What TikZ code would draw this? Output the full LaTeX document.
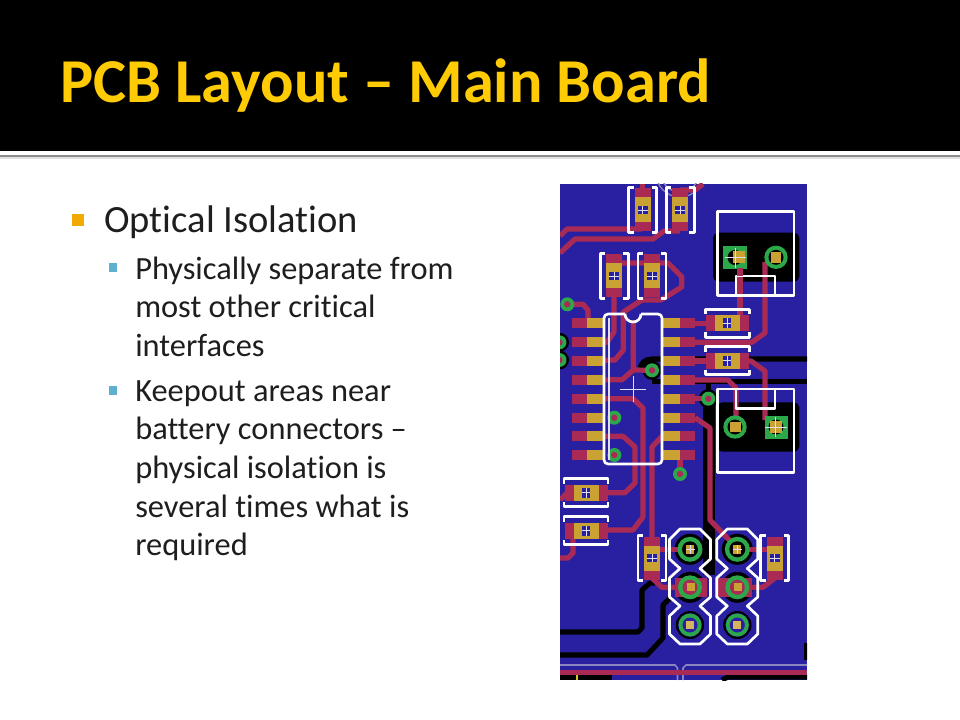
\documentclass[tikz,border=0pt]{standalone}
\usepackage{fontspec}
\setmainfont{Carlito}[Ligatures=NoCommon]
\definecolor{barGold}{HTML}{FFCB05}
\definecolor{bulGold}{HTML}{F0AA00}
\definecolor{bulBlue}{HTML}{5FB0D0}
\definecolor{bodyInk}{HTML}{1E1E1E}
\definecolor{pcbBlue}{HTML}{2820A0}
\definecolor{pcbRed}{HTML}{A92B55}
\definecolor{pcbPad}{HTML}{C9A233}
\definecolor{pcbGreen}{HTML}{2BA84A}
\definecolor{pcbGrey}{HTML}{8A86BE}
\begin{document}
\begin{tikzpicture}[x=0.75pt,y=-0.75pt,line join=round,
	trace/.style={line width=3.9pt,color=pcbRed},
	gnd/.style={line width=3.8pt,color=black},
	silk/.style={line width=2pt,color=white},
	fine/.style={line width=0.5pt,color=white!85!pcbBlue},
	head/.style={font=\fontsize{46.8}{46.8}\bfseries,text=barGold,inner sep=0pt,anchor=base west},
	item/.style={font=\fontsize{28.9}{29}\selectfont,text=bodyInk,inner sep=0pt,anchor=north west,align=left},
	subitem/.style={font=\fontsize{24.3}{29}\selectfont,text=bodyInk,inner sep=0pt,anchor=north west,align=left}]
	\useasboundingbox (0,0) rectangle (960,720);
	\fill[white] (0,0) rectangle (960,720);
	% title bar
	\fill[black] (0,0) rectangle (960,151);
	\fill[black!45] (0,155) rectangle (960,157.5);
	\fill[black!12] (0,157.5) rectangle (960,159);
	\node[head] (title) at (60,102.5) {PCB Layout – Main Board};
	% bullets
	\fill[bulGold] (72,214) rectangle (84,226);
	\fill[bulBlue] (108.7,263) rectangle (116.7,272);
	\fill[bulBlue] (108.7,386) rectangle (116.7,395);
	\node[item] (optical) at (104,205) {Optical Isolation};
	\node[subitem] (separate) at (135,256.5) {Physically separate from\\most other critical\\interfaces};
	\node[subitem] (keepout) at (135,380) {Keepout areas near\\battery connectors –\\physical isolation is\\several times what is\\required};
	% board
	\begin{scope}
	\clip (560,184) rectangle (807,680);
	\fill[pcbBlue] (560,184) rectangle (807,680);
	\draw[pcbGrey,line width=1pt] (680,173) circle[radius=24];
	\draw[pcbGrey,line width=1pt] (680,173) circle[radius=19];
	% connector copper pours and ground lines
	\fill[black,rounded corners=4] (713,232.7) rectangle (799.3,281.7);
	\fill[black,rounded corners=4] (717,402.3) rectangle (799.3,451.7);
	\draw[gnd] (640,371) .. controls (640,363) and (645,359) .. (652,359) -- (807,359);
	\draw[gnd] (652,381.5) -- (807,381.5);
	\draw[gnd,line width=9pt] (708.7,398) -- (708.7,575);
	\draw[gnd] (708.7,381.5) -- (708.7,398);
	\draw[gnd] (560,632) -- (638,632) -- (642,628) -- (642,590) -- (650,583) -- (655,583);
	\draw[gnd] (560,655) -- (647,655) -- (663,638) -- (663,605) -- (670,598);
	\draw[gnd] (807,643) -- (807,660);
	\draw[gnd] (560,677) -- (612,677);
	\draw[gnd] (722,680) -- (728,677) -- (807,677);
	\foreach \x in {690,737.3} \foreach \y in {549.3,587.3} {
		\fill[black] (\x,\y) circle[radius=15.5];
	}
	\foreach \x in {690,737.3} {
		\fill[black] (\x,625) circle[radius=14];
		\fill[pcbBlue] (\x-13,611) rectangle (\x+13,639);
		\fill[black,even odd rule] (\x,625) circle[radius=14] (\x,625) circle[radius=12];
	}
	\foreach \x/\y in {559.5/342.3,559.5/360,652/370.3,708.3/398.7} {
		\fill[black] (\x,\y) circle[radius=9.5];
	}
	% board edge outline
	\draw[pcbGrey,line width=1.2pt] (560,665) -- (675,665) -- (677.5,668) -- (677.5,680);
	\draw[pcbGrey,line width=1.2pt] (683,680) -- (683,668) -- (686,665) -- (807,665);
	\draw[trace] (560,672.3) -- (807,672.3);
	\fill[yellow!80!black] (576,675) rectangle (578,680);
	% traces
	\draw[trace] (560,236) -- (567,229) -- (642,229);
	\draw[trace] (560,253) -- (575,239) -- (653,239) -- (664,231) -- (680,231);
	\draw[trace] (642.3,184) -- (642.3,190);
	\draw[trace] (680,190) -- (695,190) -- (703,184);
	\draw[trace] (614,263) -- (668,263) -- (681.7,276.7) -- (681.7,287) -- (661,300) -- (642,300) -- (623.3,312) -- (623.3,350) -- (615,360) -- (572,361);
	\draw[trace] (633.3,320) -- (633.3,370) -- (652,370.3);
	\draw[trace] (633.3,370) -- (622,379.8) -- (572,380);
	\draw[trace] (614,297) -- (614,332) -- (607,342.3) -- (572,342.3);
	\draw[trace] (567.3,304.3) -- (583,304.3) -- (588,310) -- (588,322);
	\draw[trace] (695,323.3) -- (712,323.3);
	\draw[trace] (740,257) -- (740,318);
	\draw[trace] (765,262) -- (765,333) -- (752,342.3) -- (695,342.3);
	\draw[trace] (695,361) -- (712,361);
	\draw[trace] (745,361) -- (751,361) -- (765,371) -- (765,420);
	\draw[trace] (695,380) -- (728,380) -- (736,388) -- (736,424);
	\draw[trace] (695,398.7) -- (708.3,398.7);
	\draw[trace] (695,417.7) -- (710,428) -- (710,520) -- (733,544);
	\draw[trace] (572,398.7) -- (633,398.7) -- (643,408) -- (643,517) -- (633,530) -- (600,530);
	\draw[trace] (572,436.3) -- (623,436.3) -- (635,447) -- (635,483) -- (625,492.7) -- (600,492.7);
	\draw[trace] (695,436.3) -- (662,436.3) -- (652,447) -- (652,540);
	\draw[trace] (680,455) -- (680,474);
	\draw[trace] (560,500) -- (567,493);
	\draw[trace] (573,536) -- (573,553) -- (568,558) -- (560,558);
	\draw[trace] (652,549.3) -- (690,549.3);
	\draw[trace] (737.3,549.3) -- (775,549.3);
	\draw[trace] (652,578) -- (662,587.3) -- (690,587.3);
	\draw[trace] (737.3,587.3) -- (763,587.3) -- (775,578);
	\fill[pcbRed] (675,578) rectangle (707,597);
	\fill[pcbRed] (716,578) rectangle (752,597);
	% ic pads
	\foreach \y in {323.3,342.3,361,380,398.7,417.7,436.3,455} {
		\fill[pcbRed] (572.3,\y-5) rectangle (605,\y+5);
		\fill[pcbPad] (587,\y-5) rectangle (605,\y+5);
	}
	\foreach \y in {323.3,342.3,361,380,398.7,417.7,436.3,455} {
		\fill[pcbRed] (662.3,\y-5) rectangle (695,\y+5);
		\fill[pcbPad] (662.3,\y-5) rectangle (680,\y+5);
	}
	% vias
	\foreach \x/\y in {567.3/304.3,559.5/342.3,559.5/360,652/370.3,708.3/398.7,614.3/417.7,614.3/455,680/474} {
		\fill[pcbGreen] (\x,\y) circle[radius=7];
		\fill[pcbRed] (\x,\y) circle[radius=3.2];
	}
	% header pads
	\foreach \x in {690,737.3} {
		\fill[pcbGreen] (\x,549.3) circle[radius=12.5];
		\fill[black] (\x,549.3) circle[radius=8];
		\fill[pcbGreen] (\x,587.3) circle[radius=12];
		\fill[pcbRed] (\x,587.3) circle[radius=7.5];
		\fill[pcbPad] (\x-3,583.3) rectangle (\x+5,591.3);
		\fill[pcbGreen] (\x,625) circle[radius=11.5];
		\fill[pcbBlue] (\x,625) circle[radius=7.5];
		\fill[pcbPad!80!white] (\x-4,621) rectangle (\x+4,629);
		\fill[pcbPad] (\x-4,545) rectangle (\x+4,553.5);
		\draw[fine] (\x-4.5,549.3) -- (\x+4.5,549.3) (\x,545) -- (\x,554);
		\draw[silk] (\x-10,529) -- (\x+10,529) -- (\x+20.5,539.5) -- (\x+20.5,559) -- (\x+10,568.5) -- (\x+20.5,578) -- (\x+20.5,597) -- (\x+10,606) -- (\x+20.5,616) -- (\x+20.5,634) -- (\x+10,644) -- (\x-10,644) -- (\x-20.5,634) -- (\x-20.5,616) -- (\x-10,606) -- (\x-20.5,597) -- (\x-20.5,578) -- (\x-10,568.5) -- (\x-20.5,559) -- (\x-20.5,539.5) -- cycle;
	}
	% connector 1
	\fill[pcbGreen] (723.3,245.7) rectangle (746.7,269);
	\fill[black] (735,257.5) circle[radius=7.5];
	\fill[pcbPad] (733,251) rectangle (745,263);
	\fill[pcbGreen] (776,257.3) circle[radius=11.7];
	\fill[black] (776,257.3) circle[radius=7.5];
	\fill[pcbPad] (771,252) rectangle (781,263);
	\draw[fine] (725,257.5) -- (746,257.5) (735.5,248) -- (735.5,268);
	\draw[silk] (717.3,211.7) rectangle (794,295.7);
	\draw[silk] (736,295.7) -- (736,276) -- (775,276) -- (775,295.7);
	\draw[trace] (740,268) -- (740,276);
	% connector 2
	\fill[pcbGreen] (735,427) circle[radius=11.7];
	\fill[black] (735,427) circle[radius=7.5];
	\fill[pcbPad] (730,422) rectangle (741,432);
	\fill[pcbGreen] (764.5,415.5) rectangle (787.5,438.5);
	\fill[black] (776,427) circle[radius=7.5];
	\fill[pcbPad] (770,421) rectangle (782,433);
	\draw[fine] (765,427) -- (787,427) (775.5,417) -- (775.5,437);
	\draw[silk] (717.3,389) rectangle (794,472.3);
	\draw[silk] (736,389) -- (736,408.3) -- (775,408.3) -- (775,389);
	% ic outline
	\draw[silk,rounded corners=3] (625,314) -- (604,314) -- (604,464) -- (662,464) -- (662,314) -- (641,314);
	\draw[silk] (625,314) arc[start angle=180,end angle=360,radius=8,y radius=-8];
	\draw[fine,line width=0.8pt] (609,318) -- (609,460);
	\draw[fine] (620,389) -- (646,389) (633.3,376) -- (633.3,402);
	% vertical parts
	\foreach \x/\y in {642.7/210,680.3/210,614.3/276,652/276,652/558.3,774.7/558.3} {
		\fill[pcbRed] (\x-8,\y-21.5) rectangle (\x+8,\y+21.5);
		\fill[pcbPad] (\x-8,\y-12.5) rectangle (\x+8,\y+12.5);
		\fill[pcbBlue] (\x-5,\y-4) rectangle (\x+5,\y+4);
		\draw[fine] (\x-5,\y) -- (\x+5,\y) (\x,\y-4) -- (\x,\y+4);
		\draw[silk] (\x-9,\y-22.5) -- (\x-14,\y-22.5) -- (\x-14,\y+22.5) -- (\x-9,\y+22.5);
		\draw[silk] (\x+9,\y-22.5) -- (\x+14,\y-22.5) -- (\x+14,\y+22.5) -- (\x+9,\y+22.5);
	}
	% horizontal parts
	\foreach \x/\y in {727.3/323.3,727.3/360.7,586/492.7,586/530.7} {
		\fill[pcbRed] (\x-21.5,\y-8) rectangle (\x+21.5,\y+8);
		\fill[pcbPad] (\x-12.5,\y-8) rectangle (\x+12.5,\y+8);
		\fill[pcbBlue] (\x-4,\y-5) rectangle (\x+4,\y+5);
		\draw[fine] (\x-4,\y) -- (\x+4,\y) (\x,\y-5) -- (\x,\y+5);
		\draw[silk] (\x-22,\y-9) -- (\x-22,\y-14) -- (\x+22,\y-14) -- (\x+22,\y-9);
		\draw[silk] (\x-22,\y+9) -- (\x-22,\y+14) -- (\x+22,\y+14) -- (\x+22,\y+9);
	}
	\end{scope}
\end{tikzpicture}
\end{document}
